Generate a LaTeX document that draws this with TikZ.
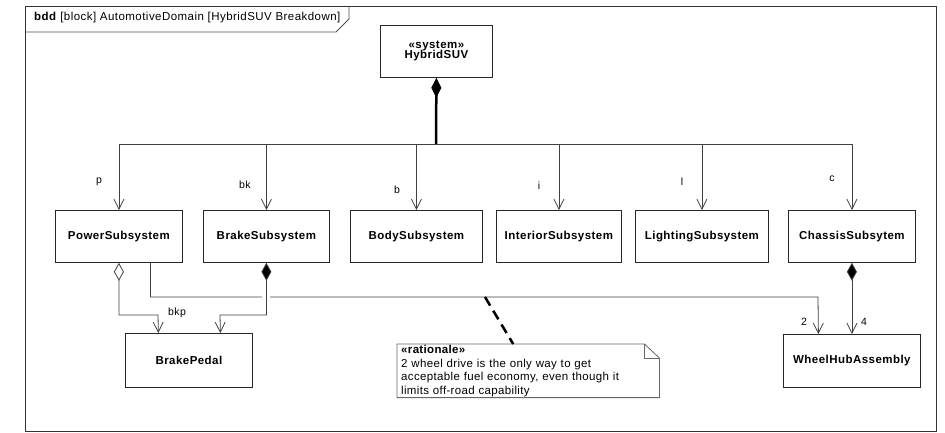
\documentclass[tikz,border=0pt]{standalone}
\usepackage{fontspec}
\setmainfont{Liberation Sans}
\usetikzlibrary{arrows.meta,calc}
\newcommand{\blkfont}{\fontsize{11.5}{12}\selectfont\bfseries\addfontfeatures{LetterSpace=4}}
\newcommand{\lblfont}{\fontsize{10.5}{12}\selectfont\addfontfeatures{LetterSpace=4}}
\newcommand{\notefont}{\fontsize{11.5}{13.5}\selectfont\addfontfeatures{LetterSpace=3}}
\begin{document}
\begin{tikzpicture}[x=1pt,y=-1pt,
  block/.style={draw=black!85, line width=0.8pt, minimum height=52pt, anchor=north west, inner sep=0pt, font=\blkfont},
  lbl/.style={font=\lblfont, inner sep=0pt},
  conn/.style={draw=black!75, line width=0.8pt},
  nav/.style={conn, -{Straight Barb[length=10pt,width=10pt]}},
  compnav/.style={conn, {Diamond[length=18pt,width=10pt,fill=black]}-{Straight Barb[length=10pt,width=10pt]}},
  aggrnav/.style={conn, {Diamond[open,length=18pt,width=10pt,fill=white]}-{Straight Barb[length=10pt,width=10pt]}},
  anchorline/.style={draw=black, line width=2.5pt, dash pattern=on 10pt off 6pt}
]
\useasboundingbox (0,0) rectangle (945,433);
% frame
\draw[black!80, line width=0.8pt] (25,6) rectangle (936,431);
\draw[black!70, line width=0.8pt] (25,32) -- (336,32) -- (349,19) -- (349,6);
\node[anchor=west, inner sep=0pt, font=\fontsize{11.5}{12}\selectfont\addfontfeatures{LetterSpace=4}] (hdr) at (34,18) {\textbf{bdd} [block] AutomotiveDomain [HybridSUV Breakdown]};

% blocks
\node[block, minimum width=112pt, align=center] (sys) at (380,25) {«system»\\[-2pt]HybridSUV};
\node[block, minimum width=127pt] (power) at (55,210) {PowerSubsystem};
\node[block, minimum width=126pt] (brake) at (203,210) {BrakeSubsystem};
\node[block, minimum width=132pt] (body) at (350,210) {BodySubsystem};
\node[block, minimum width=125pt] (interior) at (496,210) {InteriorSubsystem};
\node[block, minimum width=133pt] (lighting) at (635,210) {LightingSubsystem};
\node[block, minimum width=127pt] (chassis) at (788,210) {ChassisSubsytem};
\node[block, minimum width=127pt, minimum height=54pt] (bp) at (125,333) {BrakePedal};
\node[block, minimum width=137pt, minimum height=53pt] (wheel) at (783,334) {WheelHubAssembly};

% trunk
\coordinate (trunk) at (436,144);
\draw[conn, draw=black, line width=2.5pt, {Diamond[length=20pt,width=10pt,line width=0.8pt]}-] (sys.south) -- (trunk);
\foreach \n in {power,brake,body,interior,lighting,chassis}
  \draw[nav] (trunk) -| (\n.north);

\node[lbl] (lp) at (99,182) {p};
\node[lbl] (lbk) at (245,185) {bk};
\node[lbl] (lb) at (397,190) {b};
\node[lbl] (li) at (539,186) {i};
\node[lbl] (ll) at (682,182) {l};
\node[lbl] (lc) at (832,179) {c};

% power -> wheel hub
\draw[nav] ([xshift=31.5pt]power.south) |- (818,297) -- ([xshift=-33.5pt]wheel.north);
\draw[white, line width=3pt] (262,297) -- (270,297);
\coordinate (anc) at (485,297);

% power -> brake pedal (aggregation)
\draw[aggrnav] (power.south) |- (158,315) -- ([xshift=-30.5pt]bp.north);
% brake -> brake pedal (composition)
\draw[compnav] (brake.south) |- (220,315) -- ([xshift=31.5pt]bp.north);
% chassis -> wheel hub
\draw[compnav] (chassis.south) -- (wheel.north);

\node[lbl] (lbkp) at (177,313) {bkp};
\node[lbl] (l2) at (804,322) {2};
\node[lbl] (l4) at (864,322) {4};

% rationale note
\node[anchor=north west, minimum width=262pt, minimum height=53pt, text width=254pt, inner xsep=4pt, inner ysep=1pt, align=left, font=\notefont] (note) at (397,344)
 {\textbf{«rationale»}\\2 wheel drive is the only way to get\\acceptable fuel economy, even though it\\limits off-road capability};
\draw[black!60, line width=0.8pt] (note.north west) -- ([xshift=-15pt]note.north east) -- ([yshift=-14pt]note.north east) -- (note.south east) -- (note.south west) -- cycle;
\draw[black!60, line width=0.8pt] ([xshift=-15pt]note.north east) -- ([xshift=-15pt,yshift=-14pt]note.north east) -- ([yshift=-14pt]note.north east);
\draw[anchorline] (anc) -- ([xshift=-15pt]note.north);
\end{tikzpicture}
\end{document}
